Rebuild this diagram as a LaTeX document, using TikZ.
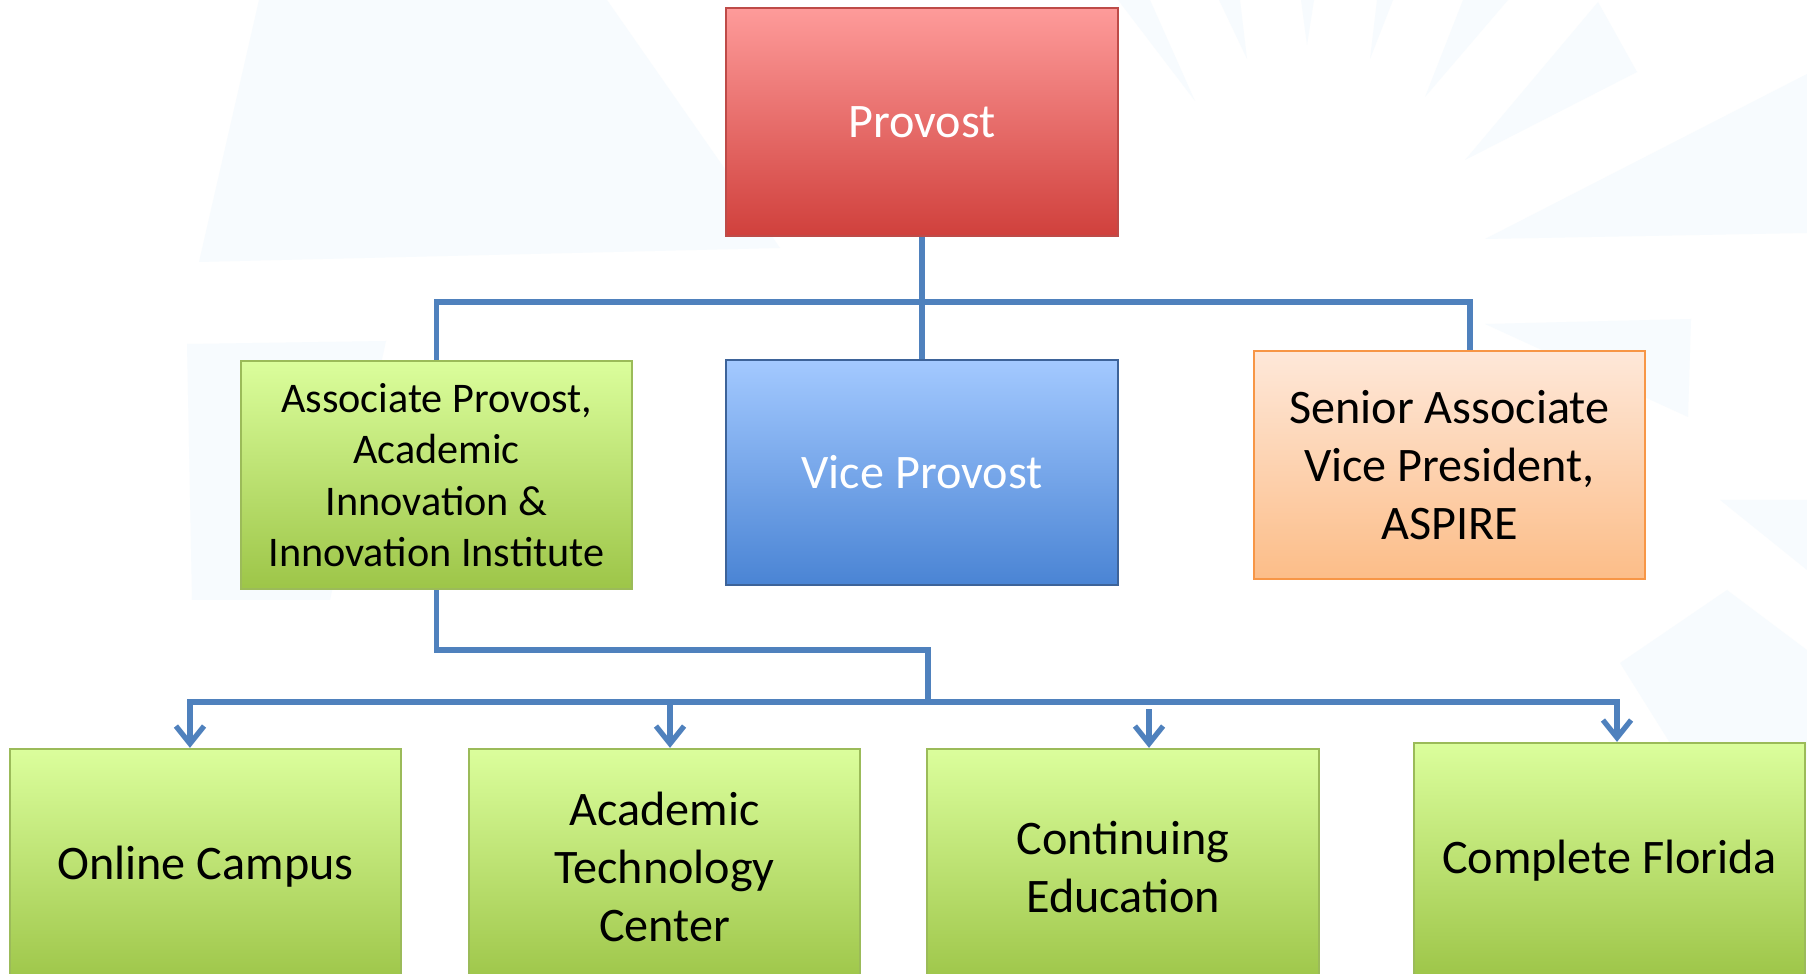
\documentclass[tikz,border=0pt]{standalone}
\usepackage{fontspec}
\setmainfont{Carlito}
\usepackage{tikz}
\usetikzlibrary{arrows.meta}

\definecolor{connblue}{HTML}{4F81BD}
\definecolor{faint}{HTML}{F7FBFE}
\definecolor{provtop}{HTML}{FE9B9A}
\definecolor{provbot}{HTML}{D0403C}
\definecolor{provline}{HTML}{BE4B48}
\definecolor{vicetop}{HTML}{A3C9FF}
\definecolor{vicebot}{HTML}{4A84D4}
\definecolor{viceline}{HTML}{3D6399}
\definecolor{greentop}{HTML}{DBFE9C}
\definecolor{greenbot}{HTML}{9DC548}
\definecolor{greenline}{HTML}{9BBB59}
\definecolor{orangetop}{HTML}{FEE8D9}
\definecolor{orangebot}{HTML}{FCBD88}
\definecolor{orangeline}{HTML}{F79646}

\begin{document}
\begin{tikzpicture}[x=0.01cm, y=-0.01cm,
		box/.style={rectangle, minimum width=3.91cm, minimum height=2.28cm, line width=0.6pt, align=center, inner sep=2pt, font=\fontsize{13.7}{16.4}\selectfont},
		redbox/.style={box, top color=provtop, bottom color=provbot, draw=provline, text=white},
		bluebox/.style={box, top color=vicetop, bottom color=vicebot, draw=viceline, text=white},
		greenbox/.style={box, top color=greentop, bottom color=greenbot, draw=greenline},
		orangebox/.style={box, top color=orangetop, bottom color=orangebot, draw=orangeline},
		conn/.style={connblue, line width=1.5pt},
		arr/.style={conn, -{Straight Barb[length=5pt, width=8pt, line width=1.5pt]}}]
		
		% Frame and faint backdrop
		\useasboundingbox (0, 0) rectangle (1807, 974);
		\clip (0, 0) rectangle (1807, 974);
		\fill[white] (0, 0) rectangle (1807, 974);
		\fill[faint] (259, 0) -- (607, 0) -- (780, 248) -- (199, 262) -- cycle;
		\fill[faint] (187, 344) -- (386, 341) -- (330, 600) -- (192, 600) -- cycle;
		\fill[faint] (1485, 239) -- (1807, 74) -- (1807, 233) -- cycle;
		\fill[faint] (1485, 324) -- (1691, 319) -- (1688, 417) -- cycle;
		\fill[faint] (1465, 160) -- (1598, 2) -- (1637, 72) -- cycle;
		\fill[faint] (1425, 97) -- (1463, 0) -- (1508, 0) -- cycle;
		\fill[faint] (1370, 59) -- (1377, 0) -- (1393, 0) -- cycle;
		\fill[faint] (1307, 45) -- (1301, 0) -- (1314, 0) -- cycle;
		\fill[faint] (1247, 59) -- (1219, 0) -- (1240, 0) -- cycle;
		\fill[faint] (1195, 101) -- (1118, 0) -- (1150, 0) -- cycle;
		\fill[faint] (1474, 408) -- (1640, 470) -- (1600, 520) -- cycle;
		\fill[faint] (1727, 590) -- (1807, 650) -- (1807, 760) -- (1670, 743) -- (1620, 663) -- cycle;
		\fill[faint] (1720, 500) -- (1807, 500) -- (1807, 570) -- cycle;
		
		% Top levels
		\node[redbox, text depth=-0.05cm] (prov) at (922, 122) {Provost};
		\node[greenbox, font=\fontsize{12}{14.6}\selectfont] (assoc) at (436.5, 475) {Associate Provost,\\Academic\\Innovation \&\\Innovation Institute};
		\node[bluebox, minimum height=2.25cm] (vice) at (922, 472.5) {Vice Provost};
		\node[orangebox] (senior) at (1449.5, 465) {Senior Associate\\Vice President,\\ASPIRE};
		
		% Units under the associate provost
		\node[greenbox, minimum height=2.36cm] (online) at (205.5, 867) {Online Campus};
		\node[greenbox, minimum height=2.36cm] (atc) at (664.5, 867) {Academic\\Technology\\Center};
		\node[greenbox, minimum height=2.36cm] (cont) at (1123, 867) {Continuing\\Education};
		\node[greenbox, minimum height=2.36cm] (flor) at (1609.5, 861) {Complete Florida};
		
		% Connect
		\coordinate (topbus) at (922, 302);
		\coordinate (lowbus) at (928, 702);
		\draw[conn] (prov.south) -- (vice.north);
		\draw[conn] (assoc.north) |- (topbus) -| ([xshift=0.205cm]senior.north);
		\draw[conn] (assoc.south) -- ++(0, 60) -| (lowbus);
		\draw[arr] (lowbus) -| ([xshift=-0.155cm]online.north);
		\draw[arr] (lowbus) -| ([xshift=0.075cm]flor.north);
		\draw[arr] ([xshift=0.055cm]atc.north |- lowbus) -- ([xshift=0.055cm]atc.north);
		\draw[arr] ([xshift=0.26cm, yshift=-0.07cm]cont.north |- lowbus) -- ([xshift=0.26cm]cont.north);
		
	\end{tikzpicture}
\end{document}
